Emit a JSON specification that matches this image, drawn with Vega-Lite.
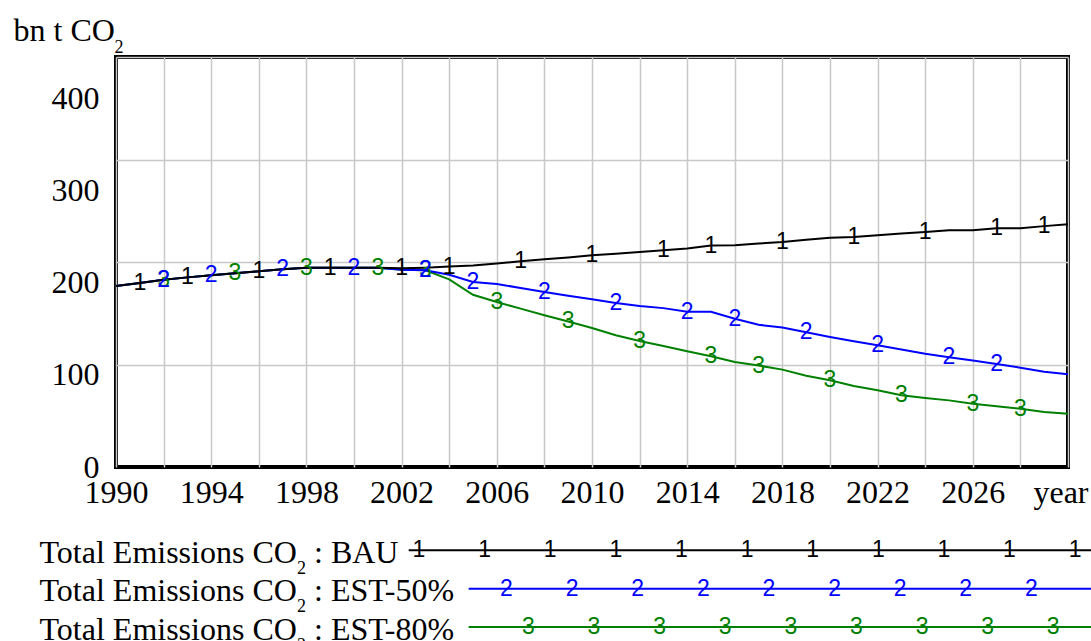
{
"$schema": "https://vega.github.io/schema/vega-lite/v6.json",
"padding": {"left": 11, "top": 12, "right": 0, "bottom": 0},
"background": "white",
"bounds": "flush",
"spacing": 83.3,
"config": {"font": "Liberation Serif", "view": {"stroke": null},
  "axis": {"labelFont": "Liberation Serif", "labelFontSize": 32, "labelColor": "#000000", "titleFont": "Liberation Serif", "titleColor": "#000000", "titleFontWeight": "normal"}},
"datasets": {
"emissions": [
{"series":"EST-80%","year":1990,"value":176.6},{"series":"EST-80%","year":1991,"value":179.5},{"series":"EST-80%","year":1992,"value":182.7},{"series":"EST-80%","year":1993,"value":185},{"series":"EST-80%","year":1994,"value":187},{"series":"EST-80%","year":1995,"value":189},{"series":"EST-80%","year":1996,"value":191},{"series":"EST-80%","year":1997,"value":193},{"series":"EST-80%","year":1998,"value":194.5},{"series":"EST-80%","year":1999,"value":194.5},{"series":"EST-80%","year":2000,"value":194.5},{"series":"EST-80%","year":2001,"value":194.5},{"series":"EST-80%","year":2002,"value":192.5},{"series":"EST-80%","year":2003,"value":192},{"series":"EST-80%","year":2004,"value":183},{"series":"EST-80%","year":2005,"value":168},{"series":"EST-80%","year":2006,"value":161},{"series":"EST-80%","year":2007,"value":154.5},{"series":"EST-80%","year":2008,"value":148},{"series":"EST-80%","year":2009,"value":142},{"series":"EST-80%","year":2010,"value":135.6},{"series":"EST-80%","year":2011,"value":128.5},{"series":"EST-80%","year":2012,"value":123},{"series":"EST-80%","year":2013,"value":118},{"series":"EST-80%","year":2014,"value":113},{"series":"EST-80%","year":2015,"value":108},{"series":"EST-80%","year":2016,"value":102.4},{"series":"EST-80%","year":2017,"value":99},{"series":"EST-80%","year":2018,"value":95},{"series":"EST-80%","year":2019,"value":89},{"series":"EST-80%","year":2020,"value":84.6},{"series":"EST-80%","year":2021,"value":79},{"series":"EST-80%","year":2022,"value":74.8},{"series":"EST-80%","year":2023,"value":70},{"series":"EST-80%","year":2024,"value":67.3},{"series":"EST-80%","year":2025,"value":65},{"series":"EST-80%","year":2026,"value":61.8},{"series":"EST-80%","year":2027,"value":59.3},{"series":"EST-80%","year":2028,"value":56.9},{"series":"EST-80%","year":2029,"value":53.7},{"series":"EST-80%","year":2030,"value":52},
{"series":"EST-50%","year":1990,"value":176.6},{"series":"EST-50%","year":1991,"value":179.5},{"series":"EST-50%","year":1992,"value":182.7},{"series":"EST-50%","year":1993,"value":185},{"series":"EST-50%","year":1994,"value":187},{"series":"EST-50%","year":1995,"value":189},{"series":"EST-50%","year":1996,"value":191},{"series":"EST-50%","year":1997,"value":193},{"series":"EST-50%","year":1998,"value":194.5},{"series":"EST-50%","year":1999,"value":194.5},{"series":"EST-50%","year":2000,"value":194.5},{"series":"EST-50%","year":2001,"value":194.5},{"series":"EST-50%","year":2002,"value":192.5},{"series":"EST-50%","year":2003,"value":192},{"series":"EST-50%","year":2004,"value":187.5},{"series":"EST-50%","year":2005,"value":180.5},{"series":"EST-50%","year":2006,"value":178.5},{"series":"EST-50%","year":2007,"value":174.7},{"series":"EST-50%","year":2008,"value":170.7},{"series":"EST-50%","year":2009,"value":167},{"series":"EST-50%","year":2010,"value":163.6},{"series":"EST-50%","year":2011,"value":160},{"series":"EST-50%","year":2012,"value":157},{"series":"EST-50%","year":2013,"value":155},{"series":"EST-50%","year":2014,"value":151.5},{"series":"EST-50%","year":2015,"value":151.5},{"series":"EST-50%","year":2016,"value":144.7},{"series":"EST-50%","year":2017,"value":138.8},{"series":"EST-50%","year":2018,"value":136},{"series":"EST-50%","year":2019,"value":131.4},{"series":"EST-50%","year":2020,"value":126.8},{"series":"EST-50%","year":2021,"value":122.7},{"series":"EST-50%","year":2022,"value":118.7},{"series":"EST-50%","year":2023,"value":114.6},{"series":"EST-50%","year":2024,"value":110.5},{"series":"EST-50%","year":2025,"value":107},{"series":"EST-50%","year":2026,"value":104},{"series":"EST-50%","year":2027,"value":100.5},{"series":"EST-50%","year":2028,"value":96.9},{"series":"EST-50%","year":2029,"value":92.9},{"series":"EST-50%","year":2030,"value":90.4},
{"series":"BAU","year":1990,"value":176.6},{"series":"BAU","year":1991,"value":179.5},{"series":"BAU","year":1992,"value":182.7},{"series":"BAU","year":1993,"value":185},{"series":"BAU","year":1994,"value":187},{"series":"BAU","year":1995,"value":189},{"series":"BAU","year":1996,"value":191},{"series":"BAU","year":1997,"value":193},{"series":"BAU","year":1998,"value":194.5},{"series":"BAU","year":1999,"value":194.5},{"series":"BAU","year":2000,"value":194.5},{"series":"BAU","year":2001,"value":194.5},{"series":"BAU","year":2002,"value":194},{"series":"BAU","year":2003,"value":194.5},{"series":"BAU","year":2004,"value":195.5},{"series":"BAU","year":2005,"value":196.5},{"series":"BAU","year":2006,"value":198.5},{"series":"BAU","year":2007,"value":200.7},{"series":"BAU","year":2008,"value":202.6},{"series":"BAU","year":2009,"value":204.5},{"series":"BAU","year":2010,"value":206.5},{"series":"BAU","year":2011,"value":208.1},{"series":"BAU","year":2012,"value":209.8},{"series":"BAU","year":2013,"value":211.4},{"series":"BAU","year":2014,"value":213.2},{"series":"BAU","year":2015,"value":216},{"series":"BAU","year":2016,"value":216.3},{"series":"BAU","year":2017,"value":218},{"series":"BAU","year":2018,"value":219.5},{"series":"BAU","year":2019,"value":221.6},{"series":"BAU","year":2020,"value":223.7},{"series":"BAU","year":2021,"value":224.4},{"series":"BAU","year":2022,"value":226},{"series":"BAU","year":2023,"value":227.7},{"series":"BAU","year":2024,"value":229.3},{"series":"BAU","year":2025,"value":231},{"series":"BAU","year":2026,"value":231},{"series":"BAU","year":2027,"value":233},{"series":"BAU","year":2028,"value":233},{"series":"BAU","year":2029,"value":235},{"series":"BAU","year":2030,"value":236.8}
],
"markers": [
{"series":"EST-80%","year":1992,"value":182.7},{"series":"EST-80%","year":1995,"value":189},{"series":"EST-80%","year":1998,"value":194.5},{"series":"EST-80%","year":2001,"value":194.5},{"series":"EST-80%","year":2003,"value":192},{"series":"EST-80%","year":2006,"value":161},{"series":"EST-80%","year":2009,"value":142},{"series":"EST-80%","year":2012,"value":123},{"series":"EST-80%","year":2015,"value":108},{"series":"EST-80%","year":2017,"value":99},{"series":"EST-80%","year":2020,"value":84.6},{"series":"EST-80%","year":2023,"value":70},{"series":"EST-80%","year":2026,"value":61.8},{"series":"EST-80%","year":2028,"value":56.9},
{"series":"EST-50%","year":1992,"value":182.7},{"series":"EST-50%","year":1994,"value":187},{"series":"EST-50%","year":1997,"value":193},{"series":"EST-50%","year":2000,"value":194.5},{"series":"EST-50%","year":2003,"value":192},{"series":"EST-50%","year":2005,"value":180.5},{"series":"EST-50%","year":2008,"value":170.7},{"series":"EST-50%","year":2011,"value":160},{"series":"EST-50%","year":2014,"value":151.5},{"series":"EST-50%","year":2016,"value":144.7},{"series":"EST-50%","year":2019,"value":131.4},{"series":"EST-50%","year":2022,"value":118.7},{"series":"EST-50%","year":2025,"value":107},{"series":"EST-50%","year":2027,"value":100.5},
{"series":"BAU","year":1991,"value":179.5},{"series":"BAU","year":1993,"value":185},{"series":"BAU","year":1996,"value":191},{"series":"BAU","year":1999,"value":194.5},{"series":"BAU","year":2002,"value":194},{"series":"BAU","year":2004,"value":195.5},{"series":"BAU","year":2007,"value":200.7},{"series":"BAU","year":2010,"value":206.5},{"series":"BAU","year":2013,"value":211.4},{"series":"BAU","year":2015,"value":216},{"series":"BAU","year":2018,"value":219.5},{"series":"BAU","year":2021,"value":224.4},{"series":"BAU","year":2024,"value":229.3},{"series":"BAU","year":2027,"value":233},{"series":"BAU","year":2029,"value":235}
],
"legend": [
{"series":"BAU","suffix":": BAU"},{"series":"EST-50%","suffix":": EST-50%"},{"series":"EST-80%","suffix":": EST-80%"}
],
"legendMarks": [
{"series":"BAU","slot":0},{"series":"BAU","slot":3},{"series":"BAU","slot":6},{"series":"BAU","slot":9},{"series":"BAU","slot":12},{"series":"BAU","slot":15},{"series":"BAU","slot":18},{"series":"BAU","slot":21},{"series":"BAU","slot":24},{"series":"BAU","slot":27},{"series":"BAU","slot":30},
{"series":"EST-50%","slot":4},{"series":"EST-50%","slot":7},{"series":"EST-50%","slot":10},{"series":"EST-50%","slot":13},{"series":"EST-50%","slot":16},{"series":"EST-50%","slot":19},{"series":"EST-50%","slot":22},{"series":"EST-50%","slot":25},{"series":"EST-50%","slot":28},
{"series":"EST-80%","slot":5},{"series":"EST-80%","slot":8},{"series":"EST-80%","slot":11},{"series":"EST-80%","slot":14},{"series":"EST-80%","slot":17},{"series":"EST-80%","slot":20},{"series":"EST-80%","slot":23},{"series":"EST-80%","slot":26},{"series":"EST-80%","slot":29}
]
},
"vconcat": [
{
 "width": 952, "height": 410,
 "view": {"stroke": "#000000", "strokeWidth": 4},
 "layer": [
  {"data": {"name": "emissions"},
   "mark": {"type": "line", "strokeWidth": 2},
   "encoding": {
    "x": {"field": "year", "type": "quantitative",
      "scale": {"domain": [1990, 2030], "nice": false, "zero": false},
      "axis": {"values": [1990,1992,1994,1996,1998,2000,2002,2004,2006,2008,2010,2012,2014,2016,2018,2020,2022,2024,2026,2028,2030],
        "labelExpr": "datum.value == 2030 ? 'year' : ((datum.value - 1990) % 4 == 0 ? format(datum.value, 'd') : '')",
        "labelAlign": {"condition": {"test": "datum.value == 2030", "value": "right"}, "value": "center"},
        "labelOffset": {"condition": {"test": "datum.value == 2030", "value": 20}, "value": 0},
        "grid": true, "gridColor": "#c8c8c8", "gridWidth": 1.5, "ticks": false, "tickSize": 0, "domain": false,
        "labelPadding": 10, "labelFlush": false, "labelOverlap": false, "labelBound": false, "title": null}},
    "y": {"field": "value", "type": "quantitative",
      "scale": {"domain": [0, 400], "nice": false},
      "axis": {"values": [100,200,300,400], "grid": true, "gridColor": "#c8c8c8", "gridWidth": 1.5, "labels": false, "ticks": false, "tickSize": 0, "domain": false,
        "title": "2", "titleX": -2, "titleY": -5, "titleAngle": 0, "titleAlign": "left", "titleBaseline": "alphabetic", "titleFontSize": 18}},
    "color": {"field": "series", "type": "nominal", "scale": {"domain": ["BAU","EST-50%","EST-80%"], "range": ["#000000","#0000ff","#008000"]}, "legend": null}
   }},
  {"data": {"name": "markers"},
   "mark": {"type": "text", "font": "Liberation Sans", "fontSize": 23, "align": "center", "baseline": "middle"},
   "encoding": {
    "x": {"field": "year", "type": "quantitative"},
    "y": {"field": "value", "type": "quantitative", "scale": {"domain": [0, 400], "nice": false}, "axis": null},
    "color": {"field": "series", "type": "nominal", "legend": null},
    "text": {"condition": [{"test": "datum.series === 'BAU'", "value": "1"}, {"test": "datum.series === 'EST-50%'", "value": "2"}], "value": "3"}
   }},
  {"data": {"name": "emissions"},
   "mark": {"type": "point", "opacity": 0},
   "encoding": {
    "x": {"field": "year", "type": "quantitative"},
    "y": {"field": "value", "type": "quantitative", "scale": {"domain": [0, 445.65], "nice": false},
      "axis": {"orient": "left", "values": [0,100,200,300,400], "grid": false, "ticks": false, "tickSize": 0, "domain": false, "labelPadding": 17, "labelOverlap": false, "labelBound": false,
        "title": "bn t CO", "titleX": -103, "titleY": -17, "titleAngle": 0, "titleAlign": "left", "titleBaseline": "alphabetic", "titleFontSize": 32}}
   }}
 ],
 "resolve": {"scale": {"y": "independent"}, "axis": {"y": "independent"}}
},
{
 "width": 977, "height": 76.7,
 "view": {"stroke": null},
 "data": {"name": "legend"},
 "encoding": {"y": {"field": "series", "type": "nominal", "scale": {"type": "point", "domain": ["BAU","EST-50%","EST-80%"], "padding": 0}, "axis": null}},
 "layer": [
  {"transform": [{"filter": "datum.series === 'BAU'"}],
   "mark": {"type": "rule", "strokeWidth": 2},
   "encoding": {
    "x": {"datum": -0.47, "type": "quantitative", "scale": {"domain": [-13.854, 30.818], "nice": false, "zero": false}, "axis": null},
    "x2": {"datum": 30.818},
    "color": {"field": "series", "type": "nominal", "legend": null}
   }},
  {"transform": [{"filter": "datum.series !== 'BAU'"}],
   "mark": {"type": "rule", "strokeWidth": 2},
   "encoding": {
    "x": {"datum": 2.27, "type": "quantitative"},
    "x2": {"datum": 30.818},
    "color": {"field": "series", "type": "nominal", "legend": null}
   }},
  {"data": {"name": "legendMarks"},
   "mark": {"type": "text", "font": "Liberation Sans", "fontSize": 23, "align": "center", "baseline": "middle"},
   "encoding": {
    "x": {"field": "slot", "type": "quantitative"},
    "color": {"field": "series", "type": "nominal", "legend": null},
    "text": {"condition": [{"test": "datum.series === 'BAU'", "value": "1"}, {"test": "datum.series === 'EST-50%'", "value": "2"}], "value": "3"}
   }},
  {"mark": {"type": "text", "font": "Liberation Serif", "fontSize": 32, "align": "left", "baseline": "alphabetic", "dy": 12.5, "color": "#000000"},
   "encoding": {"x": {"datum": -17.35, "type": "quantitative"}, "text": {"value": "Total Emissions CO"}}},
  {"mark": {"type": "text", "font": "Liberation Serif", "fontSize": 18, "align": "left", "baseline": "alphabetic", "dy": 23.5, "color": "#000000"},
   "encoding": {"x": {"datum": -5.58, "type": "quantitative"}, "text": {"value": "2"}}},
  {"mark": {"type": "text", "font": "Liberation Serif", "fontSize": 32, "align": "left", "baseline": "alphabetic", "dy": 12.5, "color": "#000000"},
   "encoding": {"x": {"datum": -4.8, "type": "quantitative"}, "text": {"field": "suffix"}}}
 ]
}
]
}
